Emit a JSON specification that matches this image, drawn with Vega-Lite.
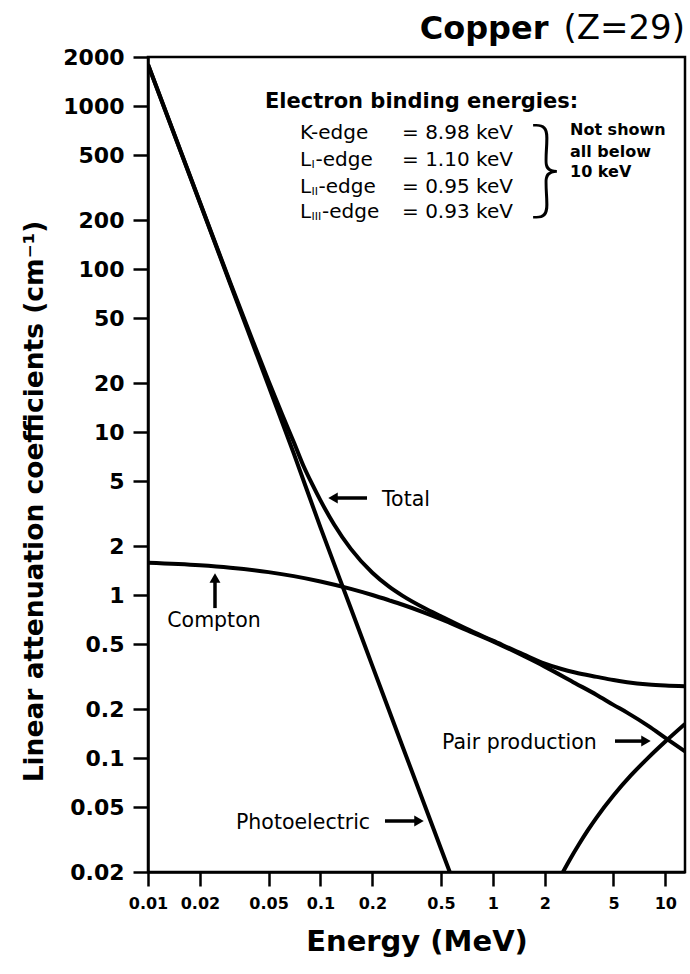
{
  "$schema": "https://vega.github.io/schema/vega-lite/v6.json",
  "width": 537,
  "height": 815,
  "autosize": {"type": "none"},
  "padding": {"left": 148, "top": 57, "right": 5, "bottom": 102},
  "background": "white",
  "datasets": {
    "curves": [
      {"series": "Photoelectric", "E": 0.01, "mu": 1800},
      {"series": "Photoelectric", "E": 0.02, "mu": 255},
      {"series": "Photoelectric", "E": 0.03, "mu": 81},
      {"series": "Photoelectric", "E": 0.05, "mu": 19.2},
      {"series": "Photoelectric", "E": 0.07, "mu": 7.4},
      {"series": "Photoelectric", "E": 0.1, "mu": 2.6},
      {"series": "Photoelectric", "E": 0.15, "mu": 0.83},
      {"series": "Photoelectric", "E": 0.2, "mu": 0.368},
      {"series": "Photoelectric", "E": 0.3, "mu": 0.117},
      {"series": "Photoelectric", "E": 0.5, "mu": 0.0278},
      {"series": "Photoelectric", "E": 0.65, "mu": 0.0133},

      {"series": "Compton", "E": 0.01, "mu": 1.577},
      {"series": "Compton", "E": 0.02, "mu": 1.522},
      {"series": "Compton", "E": 0.03, "mu": 1.471},
      {"series": "Compton", "E": 0.05, "mu": 1.383},
      {"series": "Compton", "E": 0.07, "mu": 1.307},
      {"series": "Compton", "E": 0.1, "mu": 1.212},
      {"series": "Compton", "E": 0.15, "mu": 1.092},
      {"series": "Compton", "E": 0.2, "mu": 1.001},
      {"series": "Compton", "E": 0.25, "mu": 0.929},
      {"series": "Compton", "E": 0.3, "mu": 0.872},
      {"series": "Compton", "E": 0.4, "mu": 0.781},
      {"series": "Compton", "E": 0.5, "mu": 0.712},
      {"series": "Compton", "E": 0.7, "mu": 0.611},
      {"series": "Compton", "E": 1, "mu": 0.52},
      {"series": "Compton", "E": 1.5, "mu": 0.424},
      {"series": "Compton", "E": 2, "mu": 0.364},
      {"series": "Compton", "E": 3, "mu": 0.288},
      {"series": "Compton", "E": 4, "mu": 0.244},
      {"series": "Compton", "E": 5, "mu": 0.212},
      {"series": "Compton", "E": 6, "mu": 0.19},
      {"series": "Compton", "E": 8, "mu": 0.157},
      {"series": "Compton", "E": 10, "mu": 0.133},
      {"series": "Compton", "E": 13, "mu": 0.11},

      {"series": "Pair production", "E": 2.399, "mu": 0.0177},
      {"series": "Pair production", "E": 2.55, "mu": 0.02},
      {"series": "Pair production", "E": 2.818, "mu": 0.0242},
      {"series": "Pair production", "E": 3.162, "mu": 0.0297},
      {"series": "Pair production", "E": 3.548, "mu": 0.036},
      {"series": "Pair production", "E": 3.981, "mu": 0.043},
      {"series": "Pair production", "E": 5.012, "mu": 0.0591},
      {"series": "Pair production", "E": 6.31, "mu": 0.0782},
      {"series": "Pair production", "E": 7.943, "mu": 0.1003},
      {"series": "Pair production", "E": 10, "mu": 0.1263},
      {"series": "Pair production", "E": 13, "mu": 0.162},

      {"series": "Total", "E": 0.01, "mu": 1802},
      {"series": "Total", "E": 0.02, "mu": 257},
      {"series": "Total", "E": 0.03, "mu": 82.5},
      {"series": "Total", "E": 0.04, "mu": 37.5},
      {"series": "Total", "E": 0.05, "mu": 20.6},
      {"series": "Total", "E": 0.06, "mu": 12.8},
      {"series": "Total", "E": 0.07, "mu": 8.7},
      {"series": "Total", "E": 0.08, "mu": 6.15},
      {"series": "Total", "E": 0.09, "mu": 4.74},
      {"series": "Total", "E": 0.1, "mu": 3.81},
      {"series": "Total", "E": 0.12, "mu": 2.71},
      {"series": "Total", "E": 0.15, "mu": 1.92},
      {"series": "Total", "E": 0.2, "mu": 1.37},
      {"series": "Total", "E": 0.25, "mu": 1.126},
      {"series": "Total", "E": 0.3, "mu": 0.989},
      {"series": "Total", "E": 0.4, "mu": 0.833},
      {"series": "Total", "E": 0.5, "mu": 0.74},
      {"series": "Total", "E": 0.7, "mu": 0.622},
      {"series": "Total", "E": 1, "mu": 0.525},
      {"series": "Total", "E": 1.5, "mu": 0.433},
      {"series": "Total", "E": 2, "mu": 0.38},
      {"series": "Total", "E": 2.5, "mu": 0.352},
      {"series": "Total", "E": 3, "mu": 0.335},
      {"series": "Total", "E": 4, "mu": 0.315},
      {"series": "Total", "E": 5, "mu": 0.301},
      {"series": "Total", "E": 6, "mu": 0.292},
      {"series": "Total", "E": 8, "mu": 0.283},
      {"series": "Total", "E": 10, "mu": 0.279},
      {"series": "Total", "E": 13, "mu": 0.276}
    ],
    "notes": [
      {"kind": "head", "E": 0.04771, "mu": 1058, "text": "Electron binding energies:"},
      {"kind": "row", "E": 0.07609, "mu": 683, "text": "K-edge"},
      {"kind": "row", "E": 0.07609, "mu": 466, "text": "L"},
      {"kind": "row", "E": 0.09361, "mu": 466, "text": "-edge"},
      {"kind": "row", "E": 0.07609, "mu": 318, "text": "L"},
      {"kind": "row", "E": 0.09743, "mu": 318, "text": "-edge"},
      {"kind": "row", "E": 0.07609, "mu": 224, "text": "L"},
      {"kind": "row", "E": 0.1021, "mu": 224, "text": "-edge"},
      {"kind": "row", "E": 0.2972, "mu": 683, "text": "= 8.98 keV"},
      {"kind": "row", "E": 0.2972, "mu": 466, "text": "= 1.10 keV"},
      {"kind": "row", "E": 0.2972, "mu": 318, "text": "= 0.95 keV"},
      {"kind": "row", "E": 0.2972, "mu": 224, "text": "= 0.93 keV"},
      {"kind": "sub", "E": 0.08872, "mu": 434.6, "text": "I"},
      {"kind": "sub", "E": 0.08872, "mu": 296.8, "text": "II"},
      {"kind": "sub", "E": 0.08872, "mu": 208.5, "text": "III"},
      {"kind": "side", "E": 2.8, "mu": 713, "text": "Not shown"},
      {"kind": "side", "E": 2.8, "mu": 522, "text": "all below"},
      {"kind": "side", "E": 2.8, "mu": 394, "text": "10 keV"},
      {"kind": "brace", "E": 2.032, "mu": 392, "text": "}"},
      {"kind": "label", "E": 0.2276, "mu": 3.83, "text": "Total"},
      {"kind": "label", "E": 0.03238, "mu": 0.03993, "text": "Photoelectric"},
      {"kind": "label", "E": 0.5067, "mu": 0.1236, "text": "Pair production"},
      {"kind": "centred", "E": 0.02413, "mu": 0.6928, "text": "Compton"},
      {"kind": "titleBold", "E": 2.1, "mu": 2577, "text": "Copper"},
      {"kind": "titleRegular", "E": 13, "mu": 2577, "text": "(Z=29)"}
    ],
    "arrowShafts": [
      {"target": "Total", "E1": 0.1199, "E2": 0.1862, "mu1": 3.937, "mu2": 3.937},
      {"target": "Photoelectric", "E1": 0.2367, "E2": 0.3679, "mu1": 0.04108, "mu2": 0.04108},
      {"target": "Pair production", "E1": 5.105, "E2": 7.62, "mu1": 0.1271, "mu2": 0.1271},
      {"target": "Compton", "E1": 0.02446, "E2": 0.02446, "mu1": 1.254, "mu2": 0.832}
    ],
    "arrowHeads": [
      {"target": "Total", "dir": "left", "E": 0.1183, "mu": 3.937},
      {"target": "Photoelectric", "dir": "right", "E": 0.3728, "mu": 0.04108},
      {"target": "Pair production", "dir": "right", "E": 7.72, "mu": 0.1271},
      {"target": "Compton", "dir": "up", "E": 0.02446, "mu": 1.271}
    ]
  },
  "encoding": {
    "x": {
      "field": "E",
      "type": "quantitative",
      "scale": {"type": "log", "domain": [0.01, 13], "nice": false},
      "axis": {
        "title": "Energy (MeV)",
        "values": [0.01, 0.02, 0.05, 0.1, 0.2, 0.5, 1, 2, 5, 10],
        "format": "~g",
        "labelFontSize": 16,
        "tickSize": 14,
        "labelPadding": 9,
        "labelFlush": false,
        "labelOverlap": false,
        "titleFontSize": 29,
        "titlePadding": 16
      }
    },
    "y": {
      "field": "mu",
      "type": "quantitative",
      "scale": {"type": "log", "domain": [0.02, 2000], "nice": false},
      "axis": {
        "title": "Linear attenuation coefficients (cm⁻¹)",
        "values": [0.02, 0.05, 0.1, 0.2, 0.5, 1, 2, 5, 10, 20, 50, 100, 200, 500, 1000, 2000],
        "format": "~g",
        "labelFontSize": 22,
        "tickSize": 15,
        "labelPadding": 9,
        "labelFlush": false,
        "labelOverlap": false,
        "titleFontSize": 26.5,
        "titleX": -100,
        "titleY": 444,
        "titleAlign": "center",
        "titleBaseline": "bottom"
      }
    }
  },
  "layer": [
    {
      "data": {"name": "curves"},
      "mark": {"type": "line", "color": "black", "strokeWidth": 4, "interpolate": "monotone", "clip": true},
      "encoding": {"detail": {"field": "series"}}
    },
    {
      "data": {"name": "arrowShafts"},
      "mark": {"type": "rule", "color": "black", "strokeWidth": 3.5},
      "encoding": {
        "x": {"field": "E1", "type": "quantitative"},
        "x2": {"field": "E2"},
        "y": {"field": "mu1", "type": "quantitative"},
        "y2": {"field": "mu2"}
      }
    },
    {
      "data": {"name": "arrowHeads"},
      "mark": {"type": "point", "filled": true, "color": "black", "size": 120, "opacity": 1},
      "encoding": {
        "shape": {
          "field": "dir",
          "type": "nominal",
          "scale": {"domain": ["left", "right", "up"], "range": ["triangle-left", "triangle-right", "triangle-up"]},
          "legend": null
        }
      }
    },
    {
      "data": {"name": "notes"},
      "transform": [{"filter": "datum.kind === 'head'"}],
      "mark": {"type": "text", "font": "DejaVu Sans", "fontWeight": "bold", "fontSize": 21, "align": "left", "baseline": "middle", "color": "black"},
      "encoding": {"text": {"field": "text"}}
    },
    {
      "data": {"name": "notes"},
      "transform": [{"filter": "datum.kind === 'row'"}],
      "mark": {"type": "text", "font": "DejaVu Sans", "fontSize": 20, "align": "left", "baseline": "middle", "color": "black"},
      "encoding": {"text": {"field": "text"}}
    },
    {
      "data": {"name": "notes"},
      "transform": [{"filter": "datum.kind === 'sub'"}],
      "mark": {"type": "text", "font": "DejaVu Sans", "fontSize": 11, "align": "left", "baseline": "middle", "color": "black"},
      "encoding": {"text": {"field": "text"}}
    },
    {
      "data": {"name": "notes"},
      "transform": [{"filter": "datum.kind === 'side'"}],
      "mark": {"type": "text", "font": "DejaVu Sans", "fontWeight": "bold", "fontSize": 16, "align": "left", "baseline": "middle", "color": "black"},
      "encoding": {"text": {"field": "text"}}
    },
    {
      "data": {"name": "notes"},
      "transform": [{"filter": "datum.kind === 'brace'"}],
      "mark": {"type": "text", "font": "Noto Sans CJK JP", "fontWeight": 100, "fontSize": 100, "align": "center", "baseline": "middle", "color": "black"},
      "encoding": {"text": {"field": "text"}}
    },
    {
      "data": {"name": "notes"},
      "transform": [{"filter": "datum.kind === 'label'"}],
      "mark": {"type": "text", "font": "DejaVu Sans", "fontSize": 20.5, "align": "left", "baseline": "middle", "color": "black"},
      "encoding": {"text": {"field": "text"}}
    },
    {
      "data": {"name": "notes"},
      "transform": [{"filter": "datum.kind === 'centred'"}],
      "mark": {"type": "text", "font": "DejaVu Sans", "fontSize": 20.5, "align": "center", "baseline": "middle", "color": "black"},
      "encoding": {"text": {"field": "text"}}
    },
    {
      "data": {"name": "notes"},
      "transform": [{"filter": "datum.kind === 'titleBold'"}],
      "mark": {"type": "text", "font": "DejaVu Sans", "fontWeight": "bold", "fontSize": 32, "align": "right", "baseline": "alphabetic", "color": "black"},
      "encoding": {"text": {"field": "text"}}
    },
    {
      "data": {"name": "notes"},
      "transform": [{"filter": "datum.kind === 'titleRegular'"}],
      "mark": {"type": "text", "font": "DejaVu Sans", "fontSize": 34, "align": "right", "baseline": "alphabetic", "color": "black"},
      "encoding": {"text": {"field": "text"}}
    }
  ],
  "config": {
    "view": {"stroke": "black", "strokeWidth": 2.5},
    "axis": {
      "grid": false,
      "domainColor": "black",
      "domainWidth": 2.5,
      "tickColor": "black",
      "tickWidth": 2.5,
      "labelColor": "black",
      "titleColor": "black",
      "labelFont": "DejaVu Sans",
      "titleFont": "DejaVu Sans",
      "labelFontWeight": "bold",
      "titleFontWeight": "bold"
    }
  }
}
